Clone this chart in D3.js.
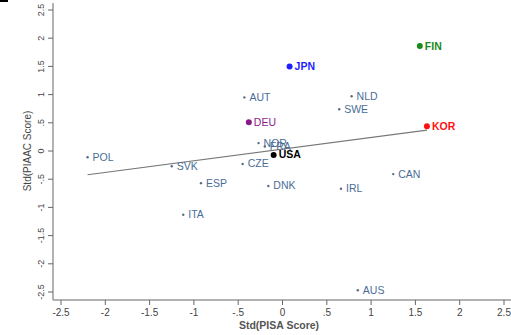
<!DOCTYPE html>
<html>
<head>
<meta charset="utf-8">
<script src="https://cdn.jsdelivr.net/npm/d3@7"></script>
<style>
  body { margin: 0; background: #fff; }
  svg { display: block; font-family: "Liberation Sans", Arial, sans-serif; }
</style>
</head>
<body>
<div id="chart"></div>
<script>
// country codes and their std scores
var countries = ['POL', 'SVK', 'ESP', 'ITA', 'CZE', 'NOR', 'FRA', 'USA', 'DNK', 'AUT', 'DEU', 'JPN', 'NLD', 'SWE', 'FIN', 'KOR', 'CAN', 'IRL', 'AUS'];
var pisa  = [-2.2, -1.25, -0.92, -1.12, -0.45, -0.27, -0.2, -0.1, -0.16, -0.43, -0.38, 0.08, 0.78, 0.64, 1.55, 1.63, 1.25, 0.66, 0.85];
var piaac = [-0.11, -0.27, -0.57, -1.13, -0.23, 0.14, 0.08, -0.07, -0.62, 0.95, 0.51, 1.5, 0.97, 0.74, 1.86, 0.44, -0.41, -0.67, -2.47];

// fitted line end points
var fitX = [-2.2, 1.63];
var fitY = [-0.42, 0.37];

var xTicks = [-2.5, -2, -1.5, -1, -0.5, 0, 0.5, 1, 1.5, 2, 2.5];
var yTicks = [-2.5, -2, -1.5, -1, -0.5, 0, 0.5, 1, 1.5, 2, 2.5];

// highlighted countries get their own colour
var highlight = { JPN: '#1f1fff', FIN: '#1a8a1a', KOR: '#ff1010', DEU: '#8a1a8a', USA: '#000000' };

var width = 511, height = 335;

var svg = d3.select('#chart').append('svg').attr('width', width).attr('height', height);

var x = d3.scaleLinear().domain([-2.5, 2.5]).range([61, 504]);
var y = d3.scaleLinear().domain([-2.5, 2.5]).range([292, 10]);

function fmt(d) {
  var s = String(d);
  return s.replace('0.', '.');
}

// little black mark top left
svg.append('rect').attr('x', 0).attr('y', 0).attr('width', 8).attr('height', 2).attr('fill', '#000');

// x axis
var xAxis = svg.append('g').attr('transform', 'translate(0,300)');
xAxis.append('line').attr('x1', 53).attr('x2', width).attr('y1', 0).attr('y2', 0)
  .attr('stroke', '#999').attr('stroke-width', 1.5);
xAxis.selectAll('line.tick').data(xTicks).enter().append('line')
  .attr('class', 'tick')
  .attr('x1', (d) => x(d)).attr('x2', (d) => x(d))
  .attr('y1', 0).attr('y2', 5)
  .attr('stroke', '#666').attr('stroke-width', 1);
xAxis.selectAll('text').data(xTicks).enter().append('text')
  .attr('x', (d) => x(d)).attr('y', 16)
  .attr('text-anchor', 'middle')
  .attr('font-size', 10).attr('fill', '#444')
  .text((d) => fmt(d));

svg.append('text').attr('x', 279).attr('y', 329)
  .attr('text-anchor', 'middle').attr('font-size', 10.5).attr('font-weight', 'bold').attr('fill', '#555')
  .text('Std(PISA Score)');

// y axis
var yAxis = svg.append('g').attr('transform', 'translate(53,0)');
yAxis.append('line').attr('x1', 0).attr('x2', 0).attr('y1', 3).attr('y2', 300)
  .attr('stroke', '#999').attr('stroke-width', 1.5);
yAxis.selectAll('line.tick').data(yTicks).enter().append('line')
  .attr('class', 'tick')
  .attr('x1', -5).attr('x2', 0)
  .attr('y1', (d) => y(d)).attr('y2', (d) => y(d))
  .attr('stroke', '#666').attr('stroke-width', 1);
yAxis.selectAll('text').data(yTicks).enter().append('text')
  .attr('transform', (d) => 'translate(-9,' + y(d) + ') rotate(-90)')
  .attr('text-anchor', 'middle')
  .attr('font-size', 9).attr('fill', '#444')
  .text((d) => fmt(d));

svg.append('text').attr('transform', 'translate(31,151) rotate(-90)')
  .attr('text-anchor', 'middle').attr('font-size', 10).attr('fill', '#444')
  .text('Std(PIAAC Score)');

// fit line
svg.append('line')
  .attr('x1', x(fitX[0])).attr('y1', y(fitY[0]))
  .attr('x2', x(fitX[1])).attr('y2', y(fitY[1]))
  .attr('stroke', '#777').attr('stroke-width', 1.1);

// points and labels
var data = countries.map((c, i) => ({ name: c, px: pisa[i], py: piaac[i] }));

var pts = svg.append('g').selectAll('g').data(data).enter().append('g')
  .attr('transform', (d) => 'translate(' + x(d.px) + ',' + y(d.py) + ')');

pts.append('circle')
  .attr('r', (d) => highlight[d.name] ? 3 : 1.2)
  .attr('fill', (d) => highlight[d.name] || '#556a85');

pts.append('text')
  .attr('x', 5)
  .attr('y', 3.5)
  .attr('font-size', 10.5)
  .attr('font-weight', (d) => (highlight[d.name] && d.name !== 'DEU') ? 'bold' : 'normal')
  .attr('fill', (d) => highlight[d.name] || '#4a6d96')
  .text((d) => d.name);
</script>
</body>
</html>
